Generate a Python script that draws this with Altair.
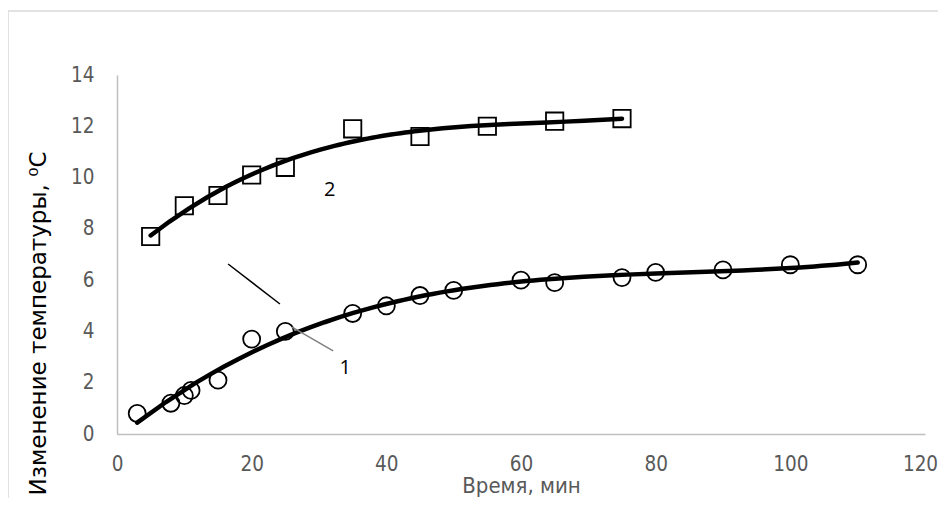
import altair as alt
import pandas as pd

# Series 1 (circles)
t1 = [3, 8, 10, 11, 15, 20, 25, 35, 40, 45, 50, 60, 65, 75, 80, 90, 100, 110]
v1 = [0.8, 1.2, 1.5, 1.7, 2.1, 3.7, 4.0, 4.7, 5.0, 5.4, 5.6, 6.0, 5.9, 6.1, 6.3, 6.4, 6.6, 6.6]
# Series 2 (squares)
t2 = [5, 10, 15, 20, 25, 35, 45, 55, 65, 75]
v2 = [7.7, 8.9, 9.3, 10.1, 10.4, 11.9, 11.6, 12.0, 12.2, 12.3]

x_ticks = [0, 20, 40, 60, 80, 100, 120]
y_ticks = [0, 2, 4, 6, 8, 10, 12, 14]

# annotation labels & leader lines (data coords)
lbl_text = ["1", "2"]
lbl_x = [33.9, 31.6]
lbl_y = [2.57, 9.52]
lead_x1 = [16.5, 26.0]
lead_y1 = [6.63, 4.17]
lead_x2 = [24.2, 32.1]
lead_y2 = [5.07, 3.24]
lead_col = ["#000000", "#808080"]

d1 = pd.DataFrame({"t": t1, "v": v1, "s": "1"})
d2 = pd.DataFrame({"t": t2, "v": v2, "s": "2"})
df = pd.concat([d1, d2], ignore_index=True)

xs = alt.Scale(domain=[0, 120], nice=False, zero=False)
ys = alt.Scale(domain=[0, 14], nice=False, zero=False)

XT = "Время, мин"
YT = "Изменение температуры, ⁰С"
NARROW = "DejaVu Sans Condensed"

x_axis = alt.Axis(values=x_ticks, grid=False, ticks=False, domainColor="#bfbfbf", domainWidth=1.5,
                  labelFont=NARROW, labelFontSize=20.5, labelColor="#595959", labelFlush=False,
                  labelOffset={"condition": {"test": "datum.value == 120", "value": -5}, "value": 0},
                  labelPadding=20, title=XT, titleFont=NARROW, titleFontSize=22,
                  titleFontWeight="normal", titleColor="#595959", titlePadding=1)
y_axis = alt.Axis(values=y_ticks, grid=False, ticks=False, domainColor="#bfbfbf", domainWidth=1.5,
                  labelFont=NARROW, labelFontSize=20.5, labelColor="#595959", labelFlush=False,
                  labelPadding=23, title=YT, titleFont="DejaVu Sans", titleFontSize=23,
                  titleFontWeight="normal", titleColor="#000000",
                  titleX=-72, titleY=248, titleAlign="center", titleBaseline="alphabetic")

base = alt.Chart(df)

pts1 = base.transform_filter(alt.datum.s == "1").mark_point(
    shape="circle", filled=False, color="black", size=290, strokeWidth=1.8, opacity=1
).encode(x=alt.X("t:Q", scale=xs, axis=x_axis), y=alt.Y("v:Q", scale=ys, axis=y_axis))

pts2 = base.transform_filter(alt.datum.s == "2").mark_point(
    shape="square", filled=False, color="black", size=300, strokeWidth=1.8, opacity=1
).encode(x=alt.X("t:Q", scale=xs), y=alt.Y("v:Q", scale=ys))

trend = base.transform_regression("t", "v", method="poly", order=3, groupby=["s"]).mark_line(
    color="black", strokeWidth=4.5, strokeCap="round"
).encode(x=alt.X("t:Q", scale=xs), y=alt.Y("v:Q", scale=ys), detail="s:N")

lead_df = pd.DataFrame({"x1": lead_x1, "y1": lead_y1, "x2": lead_x2, "y2": lead_y2, "c": lead_col})
leads = alt.Chart(lead_df).mark_rule(strokeWidth=1.5).encode(
    x=alt.X("x1:Q", scale=xs), y=alt.Y("y1:Q", scale=ys), x2="x2:Q", y2="y2:Q",
    color=alt.Color("c:N", scale=None)
)

lbl_df = pd.DataFrame({"x": lbl_x, "y": lbl_y, "t": lbl_text})
labels = alt.Chart(lbl_df).mark_text(font="Open Sans", fontSize=20, color="black").encode(
    x=alt.X("x:Q", scale=xs), y=alt.Y("y:Q", scale=ys), text="t:N"
)

frame = alt.Chart(pd.DataFrame({"a": [0]})).mark_rect(
    fill=None, stroke="#d9d9d9", strokeWidth=1.5, clip=False
).encode(x=alt.value(-109), x2=alt.value(840), y=alt.value(-64), y2=alt.value(440))

chart = alt.layer(frame, pts1, pts2, trend, leads, labels).properties(
    width=808, height=359,
    padding={"left": 109, "top": 67, "right": 13, "bottom": 64},
    autosize=alt.AutoSizeParams(type="none"),
).configure_view(stroke=None)

chart.save("out.html", embed_options={"renderer": "svg", "actions": False})
